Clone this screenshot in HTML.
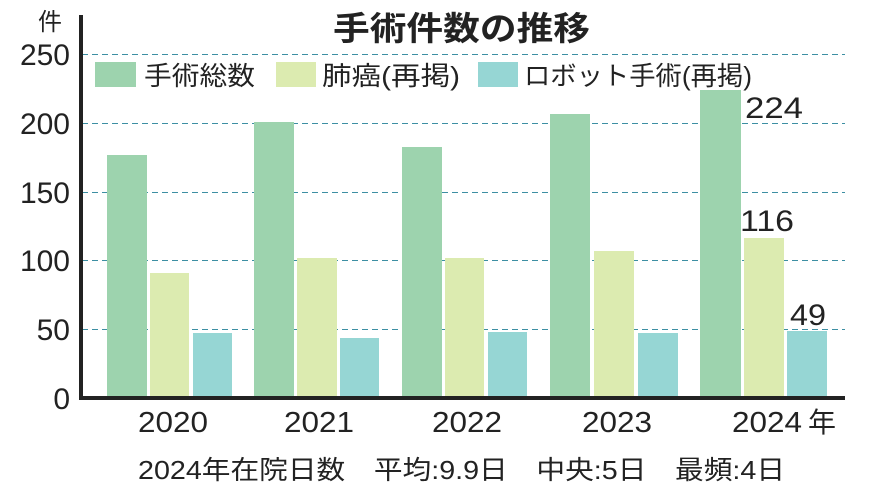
<!DOCTYPE html>
<html><head><meta charset="utf-8"><style>
body{margin:0;background:#fff;}
svg text{font-family:"Liberation Sans","Noto Sans CJK JP",sans-serif;fill:#222;}
</style></head><body>
<svg width="886" height="498" xmlns="http://www.w3.org/2000/svg">
<text x="333" y="40" font-size="33" font-weight="bold" textLength="257" lengthAdjust="spacingAndGlyphs">手術件数の推移</text>
<text x="38" y="30" font-size="24">件</text>
<g stroke="#3d8fa3" stroke-width="1" stroke-dasharray="6,4">
<line x1="82" x2="845" y1="54.5" y2="54.5"/>
<line x1="82" x2="845" y1="123.5" y2="123.5"/>
<line x1="82" x2="845" y1="192.5" y2="192.5"/>
<line x1="82" x2="845" y1="260.5" y2="260.5"/>
<line x1="82" x2="845" y1="329.5" y2="329.5"/>
</g>
<g font-size="30" text-anchor="end">
<text x="70" y="65">250</text><text x="70" y="134">200</text><text x="70" y="203">150</text><text x="70" y="271">100</text><text x="70" y="340">50</text><text x="70" y="409">0</text>
</g>
<rect x="95" y="62" width="41" height="25" fill="#9dd3ae"/>
<text x="144" y="85" font-size="26" textLength="111" lengthAdjust="spacingAndGlyphs">手術総数</text>
<rect x="276" y="62" width="40" height="25" fill="#dcebb0"/>
<text x="322" y="85" font-size="26" textLength="138" lengthAdjust="spacingAndGlyphs">肺癌(再掲)</text>
<rect x="478" y="62" width="40" height="25" fill="#96d6d4"/>
<text x="524" y="85" font-size="26" textLength="228" lengthAdjust="spacingAndGlyphs">ロボット手術(再掲)</text>
<g>
<rect x="107" y="155" width="40" height="243" fill="#9dd3ae"/>
<rect x="150" y="273" width="39" height="125" fill="#dcebb0"/>
<rect x="193" y="333" width="39" height="65" fill="#96d6d4"/>
<rect x="254" y="122" width="40" height="276" fill="#9dd3ae"/>
<rect x="297" y="258" width="40" height="140" fill="#dcebb0"/>
<rect x="340" y="338" width="39" height="60" fill="#96d6d4"/>
<rect x="402" y="147" width="40" height="251" fill="#9dd3ae"/>
<rect x="445" y="258" width="39" height="140" fill="#dcebb0"/>
<rect x="488" y="332" width="39" height="66" fill="#96d6d4"/>
<rect x="550" y="114" width="40" height="284" fill="#9dd3ae"/>
<rect x="594" y="251" width="40" height="147" fill="#dcebb0"/>
<rect x="638" y="333" width="40" height="65" fill="#96d6d4"/>
<rect x="700" y="90" width="41" height="308" fill="#9dd3ae"/>
<rect x="744" y="238" width="40" height="160" fill="#dcebb0"/>
<rect x="787" y="331" width="40" height="67" fill="#96d6d4"/>
</g>
<g font-size="30">
<text x="745" y="118" textLength="58" lengthAdjust="spacingAndGlyphs">224</text><text x="740" y="231" textLength="54" lengthAdjust="spacingAndGlyphs">116</text><text x="790" y="325" textLength="36" lengthAdjust="spacingAndGlyphs">49</text>
</g>
<rect x="79" y="15" width="4" height="385" fill="#222"/>
<rect x="79" y="396" width="766" height="4" fill="#222"/>
<g font-size="29">
<text x="138" y="432" textLength="70" lengthAdjust="spacingAndGlyphs">2020</text>
<text x="284" y="432" textLength="70" lengthAdjust="spacingAndGlyphs">2021</text>
<text x="432" y="432" textLength="70" lengthAdjust="spacingAndGlyphs">2022</text>
<text x="582" y="432" textLength="70" lengthAdjust="spacingAndGlyphs">2023</text>
<text x="732" y="432" textLength="70" lengthAdjust="spacingAndGlyphs">2024</text>
</g>
<text x="808" y="432" font-size="28">年</text>
<text x="138" y="479" font-size="26" textLength="647" lengthAdjust="spacingAndGlyphs">2024年在院日数　平均:9.9日　中央:5日　最頻:4日</text>
</svg>
</body></html>
